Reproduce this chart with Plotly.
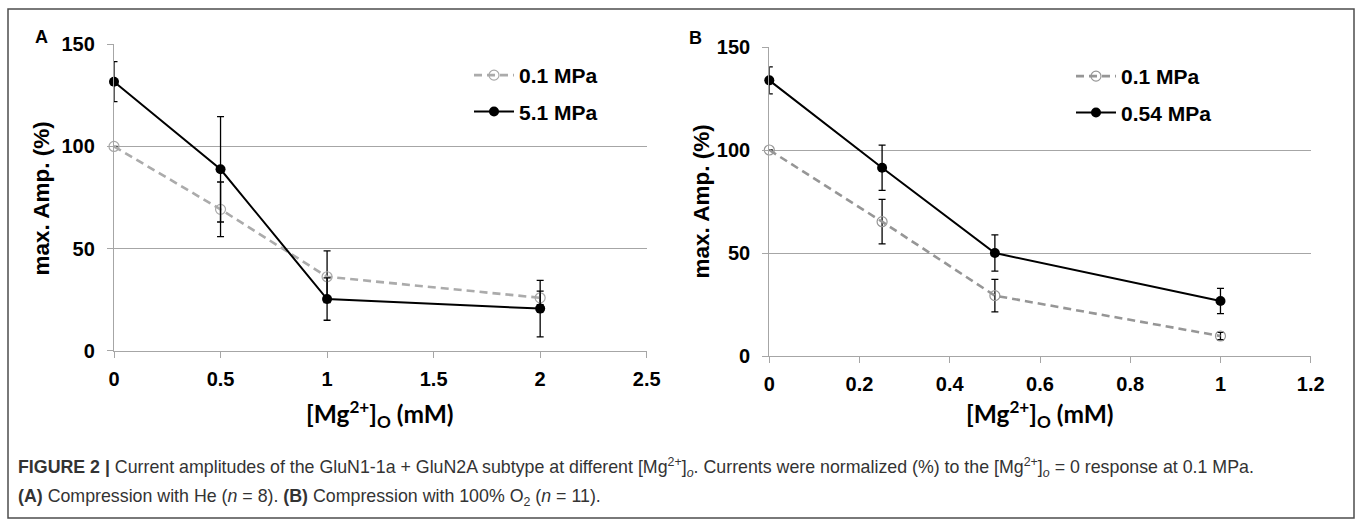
import plotly.graph_objects as go

W, H = 1357, 521

# ---------------- data ----------------
# Panel A: compression with He
a_x = [0, 0.5, 1, 2]
a_low = [100, 69.2, 36.2, 25.9]          # 0.1 MPa
a_low_err = [None, 13.4, 12.7, 3.3]
a_high = [131.7, 88.8, 25.3, 20.6]       # 5.1 MPa
a_high_err = [9.8, 25.8, 10.4, 13.8]
a_names = ["0.1 MPa", "5.1 MPa"]

# Panel B: compression with 100% O2
b_x = [0, 0.25, 0.5, 1]
b_low = [100, 65.2, 29.3, 9.7]           # 0.1 MPa
b_low_err = [None, 10.8, 7.9, 1.8]
b_high = [133.8, 91.4, 50.0, 26.7]       # 0.54 MPa
b_high_err = [6.6, 11.0, 8.8, 6.1]
b_names = ["0.1 MPa", "0.54 MPa"]

y_ticks = [0, 50, 100, 150]
a_xticks = [0, 0.5, 1, 1.5, 2, 2.5]
b_xticks = [0, 0.2, 0.4, 0.6, 0.8, 1, 1.2]

FONT = "Liberation Sans, Arial, sans-serif"


def px_x(p):
    return p / W


def px_y(p):
    return 1 - p / H


def err(vals):
    return dict(type="data", array=vals, visible=True, color="black",
                thickness=1.3, width=3.5)


fig = go.Figure()

# Panel A traces
fig.add_trace(go.Scatter(
    x=a_x, y=a_low, name=a_names[0], mode="lines+markers",
    line=dict(color="#ababab", width=2.6, dash="8px,5px"),
    marker=dict(symbol="circle-open", size=10, color="#a8a8a8", line=dict(width=1.2)),
    error_y=err(a_low_err), xaxis="x", yaxis="y", legend="legend",
    legendgroup="a1", cliponaxis=False))
fig.add_trace(go.Scatter(
    x=a_x, y=a_high, name=a_names[1], mode="lines+markers",
    line=dict(color="black", width=2),
    marker=dict(symbol="circle", size=10, color="black"),
    error_y=err(a_high_err), xaxis="x", yaxis="y", legend="legend",
    legendgroup="a2", cliponaxis=False))

# Panel B traces
fig.add_trace(go.Scatter(
    x=b_x, y=b_low, name=b_names[0], mode="lines+markers",
    line=dict(color="#969696", width=2.6, dash="8px,5px"),
    marker=dict(symbol="circle-open", size=10, color="#969696", line=dict(width=1.2)),
    error_y=err(b_low_err), xaxis="x2", yaxis="y2", legend="legend2",
    legendgroup="b1", cliponaxis=False))
fig.add_trace(go.Scatter(
    x=b_x, y=b_high, name=b_names[1], mode="lines+markers",
    line=dict(color="black", width=2),
    marker=dict(symbol="circle", size=10, color="black"),
    error_y=err(b_high_err), xaxis="x2", yaxis="y2", legend="legend2",
    legendgroup="b2", cliponaxis=False))

axis_common = dict(
    showline=True, linecolor="#a6a6a6", linewidth=1.3,
    ticks="outside", tickcolor="#a6a6a6", ticklen=6, tickwidth=1.3,
    tickfont=dict(family=FONT, size=20, color="black", weight="bold"),
    zeroline=False, automargin=False,
)

legend_font = dict(family=FONT, size=21, color="black", weight="bold")

fig.update_layout(
    width=W, height=H,
    margin=dict(l=0, r=0, t=0, b=0, pad=0),
    paper_bgcolor="white", plot_bgcolor="white",
    xaxis=dict(domain=[px_x(114), px_x(646.7)], range=[0, 2.5],
               tickvals=a_xticks, showgrid=False, anchor="y",
               ticklabelstandoff=4, **axis_common),
    yaxis=dict(domain=[px_y(350.7), px_y(44.3)], range=[0, 150],
               tickvals=y_ticks, showgrid=True, gridcolor="#a6a6a6",
               gridwidth=1.3, anchor="x", ticklabelstandoff=8, **axis_common),
    xaxis2=dict(domain=[px_x(769.3), px_x(1310.7)], range=[0, 1.2],
                tickvals=b_xticks, showgrid=False, anchor="y2",
                ticklabelstandoff=4, **axis_common),
    yaxis2=dict(domain=[px_y(356), px_y(47)], range=[0, 150],
                tickvals=y_ticks, showgrid=True, gridcolor="#a6a6a6",
                gridwidth=1.3, anchor="x2", ticklabelstandoff=8, **axis_common),
    legend=dict(x=px_x(469), y=px_y(55), xanchor="left", yanchor="top",
                bgcolor="rgba(0,0,0,0)", traceorder="grouped", tracegroupgap=6,
                itemwidth=40, font=legend_font),
    legend2=dict(x=px_x(1071), y=px_y(56), xanchor="left", yanchor="top",
                 bgcolor="rgba(0,0,0,0)", traceorder="grouped", tracegroupgap=6,
                 itemwidth=40, font=legend_font),
    showlegend=True,
)

# outer frame
fig.add_shape(type="rect", xref="paper", yref="paper",
              x0=px_x(8), x1=px_x(1354), y0=px_y(518), y1=px_y(9),
              line=dict(color="#4d4d4d", width=1.5), layer="below")

ann = []
# panel letters
ann.append(dict(text="<b>A</b>", x=px_x(41), y=px_y(37), font=dict(size=18)))
ann.append(dict(text="<b>B</b>", x=px_x(695), y=px_y(38), font=dict(size=18)))
# y titles
ann.append(dict(text="<b>max. Amp. (%)</b>", x=px_x(41), y=px_y(198.5),
                textangle=-90, font=dict(size=22.5)))
ann.append(dict(text="<b>max. Amp. (%)</b>", x=px_x(701), y=px_y(201.5),
                textangle=-90, font=dict(size=22.5)))
# x titles
xt = "<b>[Mg<sup>2+</sup>]<sub>O</sub> (mM)</b>"
ann.append(dict(text=xt, x=px_x(380), y=px_y(414), font=dict(size=24.5, family="Lato, " + FONT)))
ann.append(dict(text=xt, x=px_x(1040), y=px_y(414), font=dict(size=24.5, family="Lato, " + FONT)))
# caption
cap1 = ("<b>FIGURE 2 |</b> Current amplitudes of the GluN1-1a + GluN2A subtype at different "
        "[Mg<sup>2+</sup>]<sub><i>o</i></sub>. Currents were normalized (%) to the "
        "[Mg<sup>2+</sup>]<sub><i>o</i></sub> = 0 response at 0.1 MPa.")
cap2 = ("<b>(A)</b> Compression with He (<i>n</i> = 8). <b>(B)</b> Compression with 100% "
        "O<sub>2</sub> (<i>n</i> = 11).")
ann.append(dict(text=cap1, x=px_x(16), y=px_y(467), xanchor="left",
                font=dict(size=17.8, color="#333333")))
ann.append(dict(text=cap2, x=px_x(16), y=px_y(497), xanchor="left",
                font=dict(size=17.8, color="#333333")))

for a in ann:
    a.setdefault("xanchor", "center")
    a["yanchor"] = "middle"
    a["xref"] = "paper"
    a["yref"] = "paper"
    a["showarrow"] = False
    f = a.get("font", {})
    f.setdefault("family", FONT)
    f.setdefault("color", "black")
    a["font"] = f
    fig.add_annotation(**a)

fig.write_html("out.html",
               config={"displayModeBar": False},
               post_script="document.body.style.margin='0px';document.body.style.overflow='hidden';")
